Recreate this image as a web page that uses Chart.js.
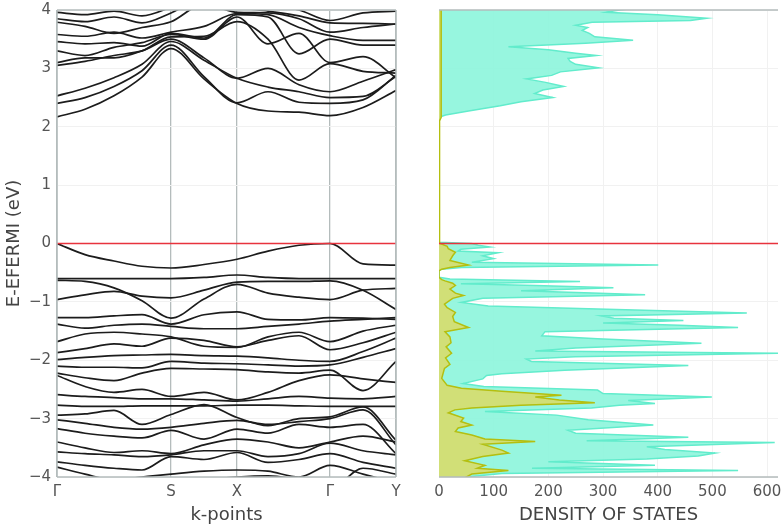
<!DOCTYPE html>
<html>
<head>
<meta charset="utf-8">
<script src="https://cdn.jsdelivr.net/npm/chart.js@4.4.1/dist/chart.umd.min.js"></script>
<style>
  body { margin: 0; background: #fff; }
  #wrap { position: relative; width: 783px; height: 528px; }
  canvas { position: absolute; top: 0; }
</style>
</head>
<body>
<div id="wrap">
  <canvas id="bands" width="420" height="528" style="left:0"></canvas>
  <canvas id="dos" width="363" height="528" style="left:420px"></canvas>
</div>
<script>
// k-path (distance along path) and high-symmetry labels
const kTickPos = [0, 114, 180, 273, 339];
const kTickLabels = ['Γ', 'S', 'X', 'Γ', 'Y'];
const kPoints = [0, 28, 57, 85, 114, 147, 180, 211, 242, 273, 306, 339];
const fermi = 0;

// conduction bands, eV at each kPoint
const conductionBands = [
  [2.17, 2.30, 2.53, 2.85, 3.34, 2.82, 2.40, 2.27, 2.25, 2.19, 2.33, 2.62],
  [2.40, 2.50, 2.69, 2.96, 3.40, 2.86, 2.41, 2.60, 2.42, 2.40, 2.46, 2.88],
  [2.53, 2.66, 2.84, 3.07, 3.46, 3.14, 2.83, 2.68, 2.60, 2.50, 2.52, 2.86],
  [3.05, 3.12, 3.22, 3.30, 3.50, 3.18, 2.83, 3.00, 2.72, 2.60, 2.78, 2.98],
  [3.10, 3.18, 3.18, 3.30, 3.54, 3.55, 3.80, 3.50, 2.80, 3.08, 2.95, 2.92],
  [3.30, 3.22, 3.36, 3.44, 3.58, 3.50, 3.88, 3.42, 3.60, 3.10, 3.20, 2.84],
  [3.46, 3.42, 3.44, 3.38, 3.60, 3.52, 3.92, 3.88, 3.25, 3.50, 3.40, 3.40],
  [3.58, 3.55, 3.62, 3.52, 3.62, 3.72, 3.94, 3.92, 3.70, 3.56, 3.48, 3.48],
  [3.79, 3.72, 3.60, 3.70, 3.80, 4.10, 3.96, 3.95, 3.85, 3.62, 3.70, 3.76],
  [3.85, 3.80, 3.88, 3.78, 3.95, 4.20, 4.05, 3.98, 3.90, 3.78, 3.77, 3.76],
  [3.96, 3.92, 3.98, 3.90, 4.05, 4.30, 4.20, 4.10, 4.00, 3.82, 3.95, 3.98]
];

// valence bands
const valenceBands = [
  [0.00, -0.19, -0.30, -0.39, -0.42, -0.36, -0.27, -0.13, -0.03, 0.00, -0.35, -0.37],
  [-0.60, -0.60, -0.60, -0.60, -0.60, -0.58, -0.54, -0.58, -0.60, -0.60, -0.60, -0.60],
  [-0.63, -0.65, -0.76, -0.98, -1.28, -0.95, -0.70, -0.85, -0.92, -0.96, -0.80, -0.77],
  [-0.96, -0.88, -0.82, -0.90, -0.93, -0.80, -0.66, -0.65, -0.65, -0.64, -0.80, -1.13],
  [-1.27, -1.27, -1.24, -1.22, -1.38, -1.22, -1.17, -1.30, -1.31, -1.27, -1.28, -1.30],
  [-1.38, -1.45, -1.40, -1.38, -1.42, -1.46, -1.46, -1.42, -1.38, -1.33, -1.30, -1.27],
  [-1.68, -1.55, -1.52, -1.55, -1.60, -1.76, -1.78, -1.60, -1.52, -1.68, -1.50, -1.40],
  [-1.87, -1.80, -1.72, -1.76, -1.62, -1.66, -1.77, -1.66, -1.58, -1.82, -1.70, -1.52],
  [-1.99, -1.95, -1.92, -1.91, -1.90, -1.92, -1.93, -1.96, -2.00, -2.02, -1.85, -1.62],
  [-2.10, -2.12, -2.12, -2.13, -2.02, -2.05, -2.06, -2.08, -2.10, -2.08, -1.95, -1.80],
  [-2.22, -2.30, -2.35, -2.22, -2.14, -2.15, -2.16, -2.20, -2.22, -2.17, -2.52, -2.02],
  [-2.26, -2.45, -2.55, -2.50, -2.62, -2.55, -2.68, -2.55, -2.35, -2.25, -2.32, -2.38],
  [-2.59, -2.62, -2.64, -2.66, -2.66, -2.68, -2.70, -2.66, -2.62, -2.65, -2.66, -2.62],
  [-2.77, -2.79, -2.79, -2.78, -2.78, -2.78, -2.77, -2.77, -2.78, -2.79, -2.79, -2.79],
  [-2.94, -2.92, -2.86, -3.10, -2.93, -2.76, -2.98, -3.12, -3.00, -2.97, -2.80, -3.37],
  [-3.02, -3.08, -3.15, -3.18, -3.15, -3.08, -3.03, -3.10, -3.05, -3.00, -2.85, -3.45],
  [-3.17, -3.25, -3.30, -3.33, -3.20, -3.35, -3.18, -3.25, -3.10, -3.15, -3.10, -3.60],
  [-3.40, -3.50, -3.58, -3.55, -3.60, -3.45, -3.35, -3.40, -3.50, -3.40, -3.30, -3.40],
  [-3.57, -3.60, -3.62, -3.65, -3.62, -3.55, -3.55, -3.65, -3.60, -3.42, -3.55, -3.62],
  [-3.74, -3.80, -3.85, -3.88, -3.65, -3.70, -3.58, -3.75, -3.70, -3.60, -3.75, -3.85],
  [-3.83, -3.95, -4.05, -4.00, -3.95, -3.90, -3.88, -3.90, -4.00, -3.80, -3.95, -4.10],
  [-4.10, -4.20, -4.20, -4.15, -4.10, -4.05, -4.00, -3.98, -4.05, -4.20, -3.85, -3.95]
];

// total DOS: energies and values
const dosTotalE = [4.05, 4.00, 3.96, 3.92, 3.86, 3.82, 3.79, 3.74, 3.70, 3.65, 3.60, 3.54, 3.48, 3.43, 3.37, 3.32,
  3.26, 3.22, 3.17, 3.12, 3.07, 3.01, 2.94, 2.88, 2.82, 2.76, 2.69, 2.63, 2.57, 2.50, 2.43, 2.36, 2.27, 2.20, 2.16,
  0.02, 0.00, -0.03, -0.06, -0.10, -0.13, -0.16, -0.21, -0.26, -0.32, -0.37, -0.41, -0.44, -0.47, -0.58, -0.61,
  -0.65, -0.69, -0.72, -0.76, -0.81, -0.85, -0.88, -0.94, -1.01, -1.07, -1.12, -1.19, -1.24, -1.28, -1.32, -1.36,
  -1.40, -1.44, -1.51, -1.58, -1.63, -1.71, -1.79, -1.84, -1.88, -1.94, -1.98, -2.02, -2.09, -2.17, -2.23, -2.26,
  -2.32, -2.40, -2.45, -2.51, -2.57, -2.63, -2.69, -2.74, -2.77, -2.82, -2.88, -2.94, -3.02, -3.11, -3.20, -3.25,
  -3.32, -3.38, -3.41, -3.48, -3.53, -3.59, -3.64, -3.69, -3.74, -3.80, -3.85, -3.89, -3.94, -3.99, -4.05];
const dosTotal = [380, 330, 306, 400, 490, 460, 280, 250, 272, 262, 275, 285, 355, 268, 127, 200,
  250, 288, 236, 240, 250, 292, 222, 206, 160, 195, 228, 190, 175, 208, 150, 112, 54, 12, 0,
  0, 60, 72, 93, 40, 35, 108, 80, 100, 60, 401, 41, 5, 0, 0, 20,
  258, 40, 176, 319, 150, 280, 377, 80, 41, 90, 290, 563, 297, 320, 447, 300,
  440, 547, 194, 188, 290, 480, 250, 176, 621, 249, 160, 169, 456, 230, 115, 87,
  80, 44, 82, 290, 300, 499, 346, 395, 330, 279, 84, 215, 273, 392, 236, 250,
  456, 270, 614, 380, 413, 505, 474, 380, 200, 395, 170, 547, 115, 60, 40];

// partial DOS
const dosPartE = [4.05, 2.16, 2.10, 0.02, 0.00, -0.05, -0.09, -0.15, -0.21, -0.29, -0.37, -0.41, -0.44, -0.47, -0.58,
  -0.62, -0.64, -0.68, -0.72, -0.78, -0.85, -0.89, -0.94, -1.04, -1.10, -1.18, -1.25, -1.34, -1.44, -1.51, -1.60,
  -1.70, -1.77, -1.88, -1.96, -2.07, -2.14, -2.31, -2.43, -2.48, -2.53, -2.60, -2.63, -2.68, -2.73, -2.77, -2.82,
  -2.85, -2.90, -2.99, -3.05, -3.11, -3.16, -3.22, -3.28, -3.35, -3.39, -3.44, -3.54, -3.59, -3.65, -3.72, -3.80,
  -3.85, -3.89, -3.95, -4.05];
const dosPart = [4, 4, 1, 1, 2, 15, 17, 30, 25, 20, 54, 20, 5, 0, 0,
  5, 11, 25, 30, 20, 30, 45, 25, 10, 15, 30, 25, 28, 54, 11, 20,
  22, 13, 23, 12, 20, 10, 5, 15, 41, 115, 224, 176, 220, 285, 150, 60,
  29, 17, 45, 40, 60, 35, 30, 60, 84, 176, 80, 115, 127, 80, 47, 84,
  70, 127, 60, 40];

const dosTicks = [0, 100, 200, 300, 400, 500, 600];

const fontFam = '"DejaVu Sans", Verdana, sans-serif';
const tickColor = '#555';
const minus = v => (v < 0 ? '\u2212' + Math.abs(v) : String(v));
const noPad = s => { s.paddingLeft = 0; s.paddingRight = 0; s.paddingTop = 0; s.paddingBottom = 0; };

const framePlugin = {
  id: 'frame',
  afterDatasetsDraw(chart, args, opts) {
    const a = chart.chartArea, ctx = chart.ctx;
    ctx.save();
    ctx.strokeStyle = opts.color;
    ctx.lineWidth = 1.5;
    ctx.beginPath();
    const s = opts.sides;
    if (s.includes('top')) { ctx.moveTo(a.left, a.top); ctx.lineTo(a.right, a.top); }
    if (s.includes('bottom')) { ctx.moveTo(a.left, a.bottom); ctx.lineTo(a.right, a.bottom); }
    if (s.includes('left')) { ctx.moveTo(a.left, a.top); ctx.lineTo(a.left, a.bottom); }
    if (s.includes('right')) { ctx.moveTo(a.right, a.top); ctx.lineTo(a.right, a.bottom); }
    ctx.stroke();
    ctx.restore();
  }
};

const bandLine = band => ({
  data: band.map((e, i) => ({ x: kPoints[i], y: e })),
  borderColor: '#1c1c1c',
  borderWidth: 1.7,
  pointRadius: 0,
  cubicInterpolationMode: 'monotone',
  fill: false,
  order: 3
});

const bandSets = conductionBands.concat(valenceBands).map(bandLine);
bandSets.push({
  data: [{ x: kTickPos[0], y: fermi }, { x: kTickPos[4], y: fermi }],
  borderColor: '#e8333d', borderWidth: 1.6, pointRadius: 0, fill: false, order: 0
});

new Chart(document.getElementById('bands'), {
  type: 'line',
  data: { datasets: bandSets },
  options: {
    responsive: false,
    animation: false,
    layout: { padding: { top: 10, right: 24, left: 0, bottom: 0 } },
    plugins: { legend: { display: false }, tooltip: { enabled: false },
      frame: { color: '#b4bcbc', sides: ['top', 'bottom', 'left', 'right'] } },
    scales: {
      x: {
        type: 'linear', min: 0, max: 339,
        afterBuildTicks: s => { s.ticks = kTickPos.map(v => ({ value: v })); },
        afterFit: s => { s.height = 51; noPad(s); },
        ticks: { autoSkip: false, maxRotation: 0, padding: 6, color: tickColor,
          font: { family: fontFam, size: 15 },
          callback: (v, i) => kTickLabels[i] },
        grid: { color: '#b4bcbc', lineWidth: 1.3, drawTicks: false },
        border: { display: false },
        title: { display: true, text: 'k-points', color: '#444', font: { family: fontFam, size: 18 }, padding: 2 }
      },
      y: {
        type: 'linear', min: -4, max: 4,
        afterFit: s => { s.width = 57; noPad(s); },
        ticks: { stepSize: 1, padding: 6, color: tickColor, font: { family: fontFam, size: 15 }, callback: minus },
        grid: { color: '#f1f1f1', drawTicks: false },
        border: { display: false },
        title: { display: true, text: 'E-EFERMI (eV)', color: '#444', font: { family: fontFam, size: 18 }, padding: 4 }
      }
    }
  },
  plugins: [framePlugin]
});

new Chart(document.getElementById('dos'), {
  type: 'line',
  data: {
    datasets: [
      {
        data: dosTotalE.map((e, i) => ({ x: dosTotal[i], y: e })),
        borderColor: '#62eccc', backgroundColor: 'rgba(140,245,220,0.9)',
        borderWidth: 1.5, pointRadius: 0, tension: 0, fill: 'origin', order: 2
      },
      {
        data: dosPartE.map((e, i) => ({ x: dosPart[i], y: e })),
        borderColor: '#b4bf10', backgroundColor: 'rgba(214,220,110,0.92)',
        borderWidth: 1.5, pointRadius: 0, tension: 0, fill: 'origin', order: 1
      },
      {
        data: [{ x: 0, y: fermi }, { x: 620, y: fermi }],
        borderColor: '#e8333d', borderWidth: 1.6, pointRadius: 0, fill: false, order: 0
      }
    ]
  },
  options: {
    responsive: false,
    animation: false,
    indexAxis: 'y',
    layout: { padding: { top: 10, right: 5, left: 0, bottom: 0 } },
    plugins: { legend: { display: false }, tooltip: { enabled: false },
      frame: { color: '#b4bcbc', sides: ['top', 'bottom'] } },
    scales: {
      x: {
        type: 'linear', min: 0, max: 620,
        afterBuildTicks: s => { s.ticks = dosTicks.map(v => ({ value: v })); },
        afterFit: s => { s.height = 51; noPad(s); },
        ticks: { autoSkip: false, maxRotation: 0, padding: 6, color: tickColor, font: { family: fontFam, size: 15 } },
        grid: { color: '#f1f1f1', drawTicks: false },
        border: { display: false },
        title: { display: true, text: 'DENSITY OF STATES', color: '#444', font: { family: fontFam, size: 18 }, padding: 2 }
      },
      y: {
        type: 'linear', min: -4, max: 4,
        afterFit: s => { s.width = 19; noPad(s); },
        ticks: { stepSize: 1, display: false },
        grid: { color: '#f1f1f1', drawTicks: false },
        border: { display: false }
      }
    }
  },
  plugins: [framePlugin]
});
</script>
</body>
</html>
